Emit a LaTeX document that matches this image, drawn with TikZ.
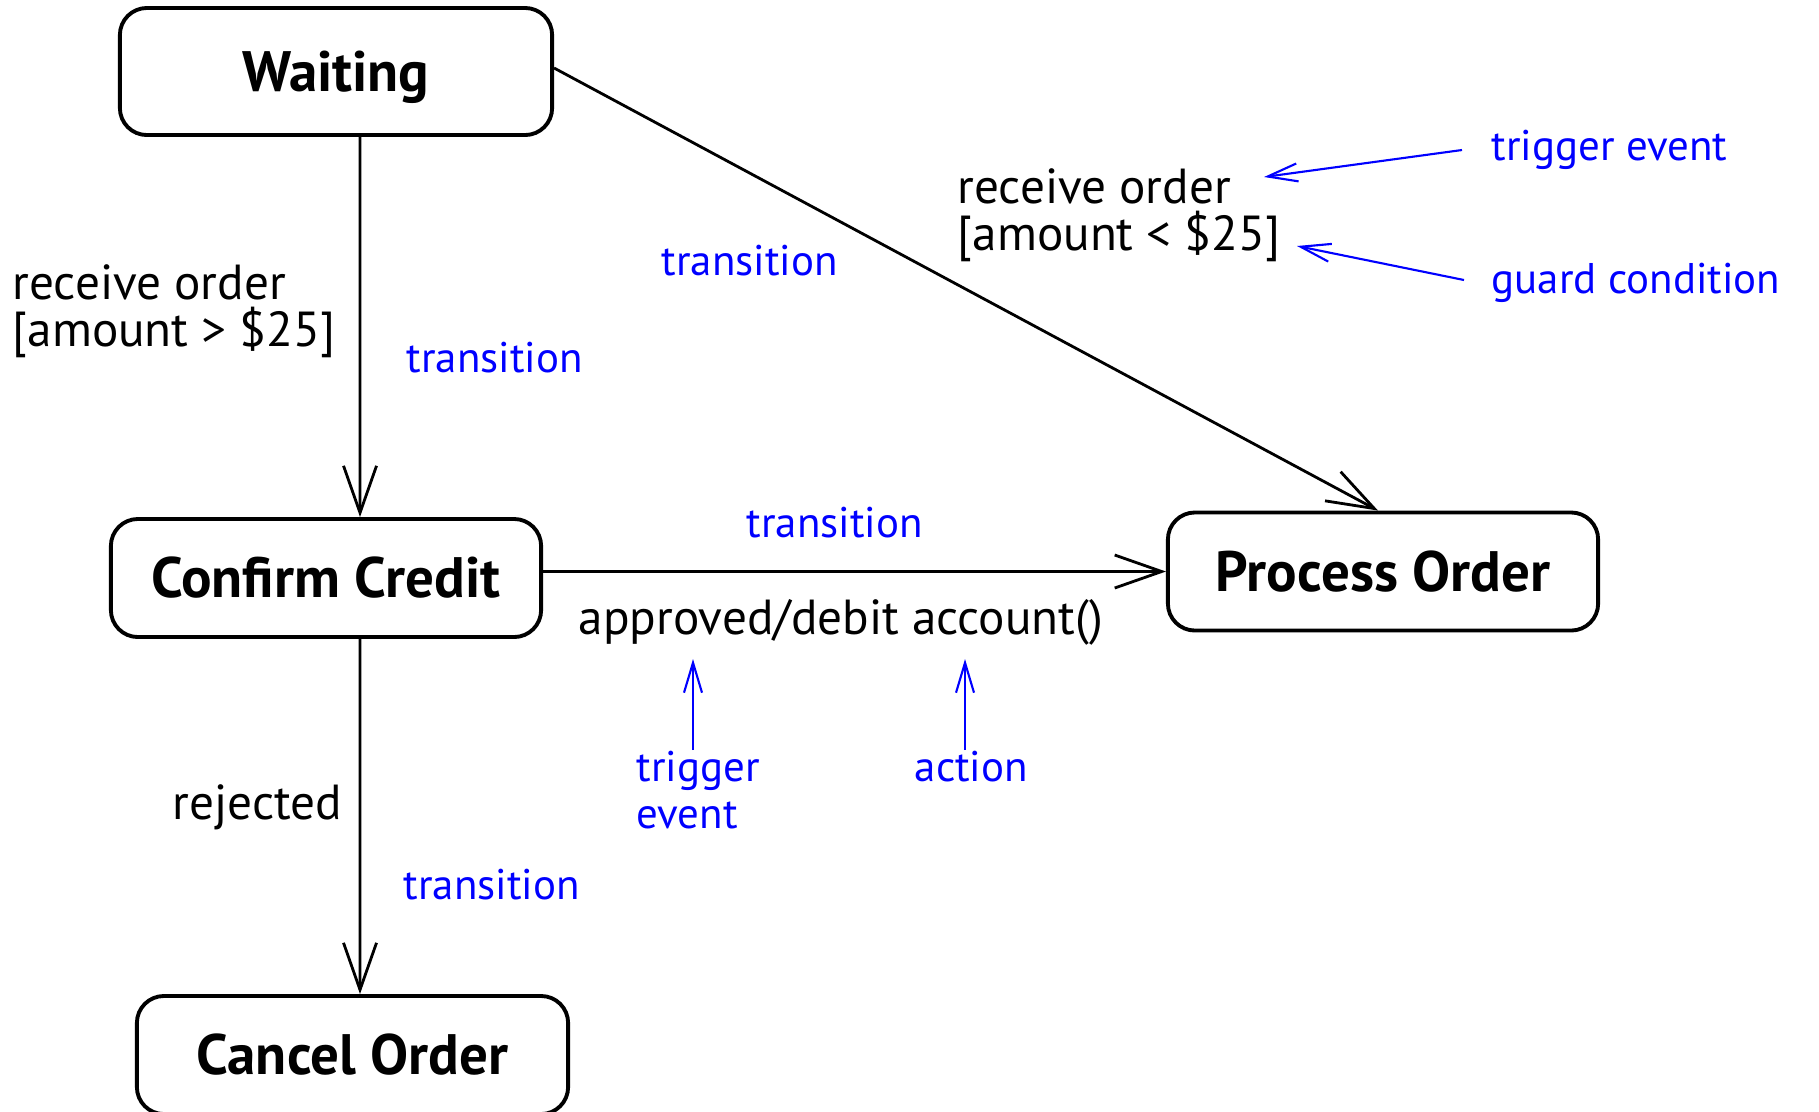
\documentclass[tikz,border=0pt]{standalone}
\usepackage{fontspec}
\setmainfont{PT Sans}
\usetikzlibrary{arrows.meta}

\begin{document}
\begin{tikzpicture}[x=0.01cm,y=-0.01cm,
		state/.style={draw, line width=1.1pt, rounded corners=0.27cm, inner sep=0pt, text height=11.3pt, text depth=0pt,
			minimum width=4.3cm, minimum height=1.18cm, font=\fontsize{16.2}{18}\selectfont\bfseries},
		trans/.style={line width=0.8pt, -{Straight Barb[length=4.7mm, width=3.3mm, line width=0.8pt]}},
		note/.style={blue, line width=0.6pt, -{Straight Barb[length=3mm, width=1.8mm, line width=0.6pt]}},
		lbl/.style={inner sep=0pt, align=left, font=\fontsize{14}{13.4}\selectfont},
		blbl/.style={inner sep=0pt, align=left, text=blue, font=\fontsize{12.2}{13.4}\selectfont}]
	\useasboundingbox (0,0) rectangle (1819,1111);

	% states
	\node[state, minimum width=4.32cm, minimum height=1.27cm] (waiting) at (336,71.5) {Waiting};
	\node[state] (confirm) at (326,578) {Confirm Credit};
	\node[state] (process) at (1383,571.5) {Process Order};
	\node[state, minimum width=4.31cm] (cancel) at (352.5,1055) {Cancel Order};

	% transitions
	\draw[trans] ([xshift=0.24cm]waiting.south) -- ([xshift=0.34cm]confirm.north);
	\draw[trans] ([yshift=0.035cm]waiting.east) -- ([xshift=-0.05cm]process.north);
	\draw[trans] (confirm.east |- process.west) -- (process.west);
	\draw[trans] ([xshift=0.34cm]confirm.south) -- ([xshift=0.075cm]cancel.north);

	% guards and events
	\node[lbl, anchor=west] (big) at (12,311) {receive order\\{[}amount > \$25{]}};
	\node[lbl, anchor=west] (small) at (957,215) {receive order\\{[}amount < \$25{]}};
	\node[lbl, anchor=west] (debit) at (578,622) {approved/debit account()};
	\node[lbl, anchor=west] (rejected) at (172,807) {rejected};

	% notes
	\node[blbl, anchor=west] (tr1) at (406,358) {transition};
	\node[blbl, anchor=west] (tr2) at (661,261) {transition};
	\node[blbl, anchor=west] (tr3) at (746,523) {transition};
	\node[blbl, anchor=west] (tr4) at (403,885) {transition};
	\node[blbl, anchor=west] (trigtop) at (1491,150) {trigger event};
	\node[blbl, anchor=west] (guard) at (1491,283) {guard condition};
	\node[blbl, anchor=north west] (trigbot) at (636,750) {trigger\\event};
	\node[blbl, anchor=north west] (action) at (914,750) {action};

	\coordinate (trigtip) at (1264,177);
	\coordinate (guardtip) at (1297,246);
	\coordinate (evtip) at (693,659);
	\coordinate (acttip) at (965,659);
	\draw[note] ([xshift=-0.29cm,yshift=0cm]trigtop.west) -- (trigtip);
	\draw[note] ([xshift=-0.27cm,yshift=0.03cm]guard.west) -- (guardtip);
	\draw[note] (trigbot.north -| evtip) -- (evtip);
	\draw[note] (action.north -| acttip) -- (acttip);
\end{tikzpicture}
\end{document}
